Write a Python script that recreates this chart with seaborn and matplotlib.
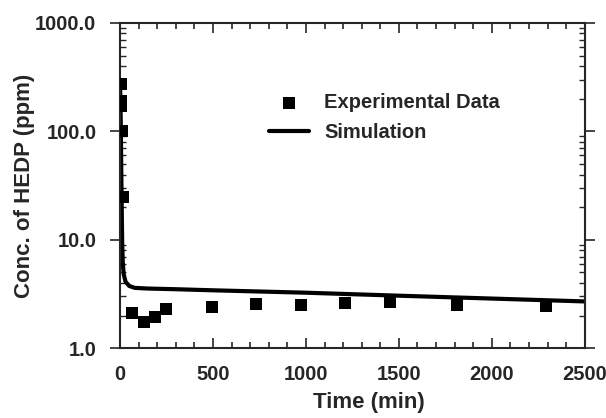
import seaborn as sns
import matplotlib.pyplot as plt
import matplotlib.ticker as mticker
import numpy as np
import pandas as pd

# experimental points
exp_time = [5, 8, 6, 10, 14, 63, 131, 188, 245, 493, 729, 976, 1210, 1452, 1810, 2293]
exp_conc = [272, 190, 170, 100, 25, 2.12, 1.75, 1.95, 2.30, 2.41, 2.55, 2.50, 2.59, 2.65, 2.50, 2.47]

# simulation curve
sim_time = [0, 2, 4, 6, 8, 10, 12, 15, 20, 30, 50, 80, 150, 300, 500, 1000, 1500, 2000, 2500]
sim_conc = [290, 200, 120, 60, 30, 16, 9, 6.2, 4.8, 4.1, 3.75, 3.6, 3.55, 3.5, 3.42, 3.25, 3.05, 2.87, 2.7]

exp = pd.DataFrame({'time': exp_time, 'conc': exp_conc})
sim = pd.DataFrame({'time': sim_time, 'conc': sim_conc})

sns.set_style('ticks')
plt.rcParams['font.family'] = ['Liberation Sans', 'DejaVu Sans']
plt.rcParams['font.weight'] = 'bold'

fig, ax = plt.subplots(figsize=(6.06, 4.18), dpi=100)
fig.subplots_adjust(left=0.198, right=0.965, bottom=0.167, top=0.945)

sns.scatterplot(data=exp, x='time', y='conc', marker='s', s=75, color='black',
                edgecolor='black', linewidth=0, label='Experimental Data', ax=ax, zorder=3)
sns.lineplot(data=sim, x='time', y='conc', color='black', linewidth=3,
             label='Simulation', ax=ax)

ax.set_yscale('log')
ax.set_xlim(0, 2500)
ax.set_ylim(1, 1000)

ax.xaxis.set_major_locator(mticker.MultipleLocator(500))
ax.xaxis.set_minor_locator(mticker.MultipleLocator(100))
ax.yaxis.set_major_locator(mticker.LogLocator(base=10))
ax.yaxis.set_minor_locator(mticker.LogLocator(base=10, subs=np.arange(2, 10)))
ax.yaxis.set_major_formatter(mticker.FuncFormatter(lambda v, p: f'{v:.1f}'))
ax.yaxis.set_minor_formatter(mticker.NullFormatter())

for side in ['top', 'right', 'bottom', 'left']:
    ax.spines[side].set_visible(True)
    ax.spines[side].set_linewidth(1.5)

ax.tick_params(axis='x', which='both', direction='in', top=True, bottom=True,
               labelsize=14.5, width=1.2, pad=12)
ax.tick_params(axis='x', which='major', length=7)
ax.tick_params(axis='x', which='minor', length=4)
ax.tick_params(axis='y', which='major', direction='out', left=True, right=True,
               length=7, width=1.2, labelsize=14.5, pad=10)
ax.tick_params(axis='y', which='minor', direction='in', left=True, right=True,
               length=4, width=1.0)
for lab in ax.get_xticklabels() + ax.get_yticklabels():
    lab.set_fontweight('bold')
# keep the last x label inside the canvas, as in the original
ax.get_xticklabels()[-1].set_horizontalalignment('right')

ax.set_xlabel('Time (min)', fontsize=16, fontweight='bold')
ax.set_ylabel('Conc. of HEDP (ppm)', fontsize=16, fontweight='bold')
ax.xaxis.set_label_coords(0.535, -0.135)
ax.yaxis.set_label_coords(-0.183, 0.5)

leg = ax.legend(loc='upper left', bbox_to_anchor=(0.282, 0.84), frameon=False,
                prop={'weight': 'bold', 'size': 14.5}, handlelength=2.0,
                handletextpad=0.72, labelspacing=0.55)

fig.savefig('out.png', dpi=100)
